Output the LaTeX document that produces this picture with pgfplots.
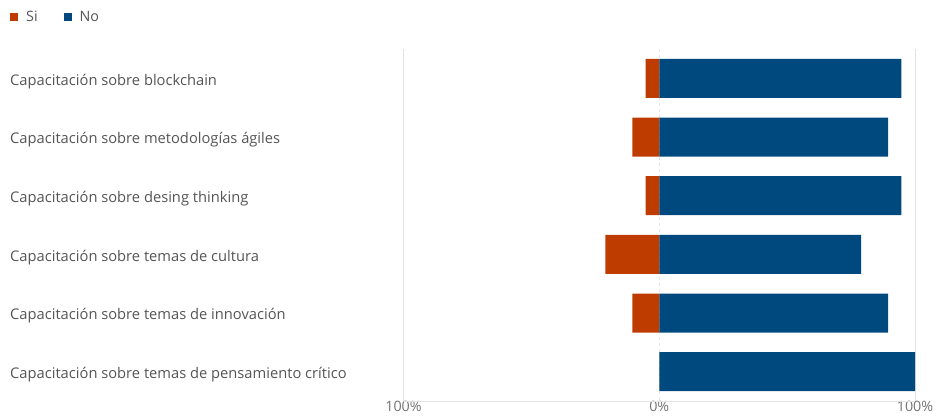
\documentclass[border=0pt]{standalone}
\usepackage{pgfplots}
\pgfplotsset{compat=1.18}
\usepackage{fontspec}
\setmainfont{Open Sans}
\definecolor{si}{RGB}{190,60,0}
\definecolor{no}{RGB}{0,73,127}
\definecolor{lbl}{RGB}{85,85,85}
\definecolor{tk}{RGB}{115,115,115}
\definecolor{grd}{RGB}{228,228,228}
\begin{document}
\begin{tikzpicture}[x=1pt,y=1pt]
\useasboundingbox (0,0) rectangle (936,415);
\begin{axis}[
  at={(403.5pt,14pt)}, anchor=south west,
  scale only axis, width=511.5pt, height=352pt,
  xmin=-100, xmax=100, ymin=-0.5, ymax=5.5, y dir=reverse,
  axis line style={draw=none},
  xbar, bar width=39pt, bar shift=0pt,
  major tick length=0pt, tick style={draw=none},
  xtick={-100,100}, xticklabels={100\%,100\%},
  extra x ticks={0}, extra x tick labels={0\%},
  xmajorgrids, grid style={grd, line width=0.8pt},
  extra x tick style={grid style={grd, dashed, line width=0.8pt}},
  xticklabel style={font=\fontsize{14.3}{16}\selectfont, text=tk, yshift=3pt},
  ytick={0,1,2,3,4,5},
  yticklabels={Capacitación sobre blockchain, Capacitación sobre metodologías ágiles, Capacitación sobre desing thinking, Capacitación sobre temas de cultura, Capacitación sobre temas de innovación, Capacitación sobre temas de pensamiento crítico},
  yticklabel style={anchor=west, inner sep=0pt, xshift=-393.5pt, yshift=-3pt, font=\fontsize{14.7}{16}\selectfont, text=lbl},
  legend columns=2,
  legend style={at={(-0.7693,1.0909)}, anchor=west, draw=none, fill=none, inner sep=0pt,
    font=\fontsize{14.3}{16}\selectfont, text=lbl,
    nodes={inner sep=0pt},
    /tikz/every odd column/.append style={column sep=8pt},
    /tikz/every even column/.append style={column sep=26pt}},
  clip=false,
]
\addplot[fill=si, draw=none, legend image code/.code={\fill[si] (0pt,-4pt) rectangle (8pt,4pt);}]
  coordinates {(-5.3,0) (-10.5,1) (-5.3,2) (-21.1,3) (-10.5,4) (0,5)};
\addplot[fill=no, draw=none, legend image code/.code={\fill[no] (0pt,-4pt) rectangle (8pt,4pt);}]
  coordinates {(94.7,0) (89.5,1) (94.7,2) (78.9,3) (89.5,4) (100,5)};
\legend{Si,No}
\draw[grd, line width=0.8pt] (rel axis cs:0,0) -- (rel axis cs:1,0);
\end{axis}
\end{tikzpicture}
\end{document}
